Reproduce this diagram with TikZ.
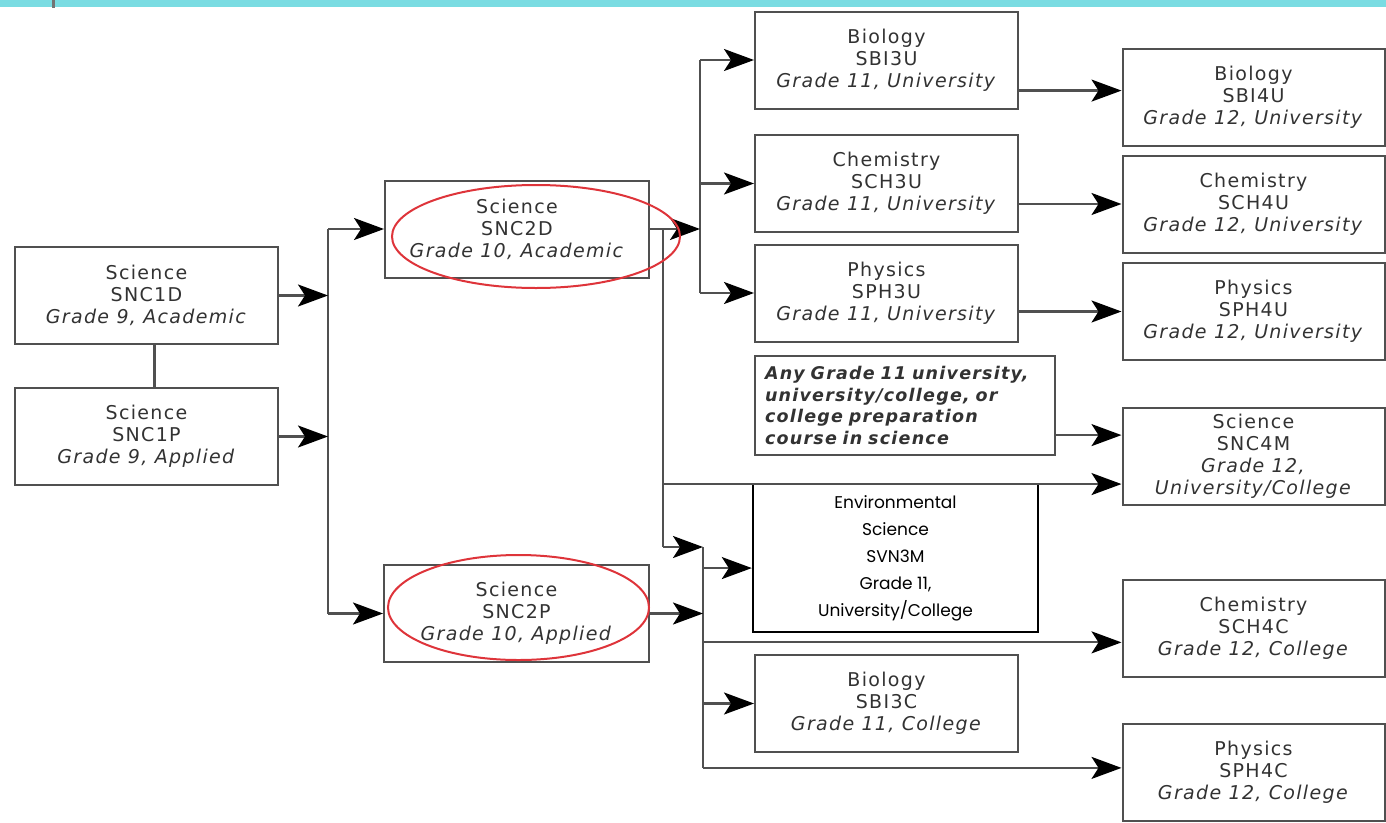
\documentclass[tikz,border=0pt]{standalone}
\usepackage{fontspec}
\usetikzlibrary{arrows.meta}
\newfontfamily\crsfont{DejaVu Sans}[LetterSpace=7]
\newfontfamily\envfont{Poppins}
\definecolor{barcyan}{RGB}{122,220,226}
\definecolor{ringred}{RGB}{222,52,58}
\definecolor{inkgray}{RGB}{50,50,50}
\definecolor{rulegray}{RGB}{80,80,80}
\tikzset{
  course/.style={draw=rulegray, line width=2pt, minimum width=263pt, minimum height=97pt,
    inner sep=0pt, align=center, text=inkgray, font=\crsfont\fontsize{19}{22}\selectfont},
  arr/.style={draw=rulegray, line width=2.2pt, -{Stealth[length=30pt,width=22pt,inset=7pt,black]}},
  link/.style={draw=rulegray, line width=2.2pt},
  ring/.style={draw=ringred, line width=2pt}
}
\begin{document}
\begin{tikzpicture}[x=1pt,y=-1pt]
\useasboundingbox (0,0) rectangle (1386,822);
\fill[barcyan] (0,0) rectangle (1386,7);
\fill[black!55] (52,0) rectangle (55,8);

\coordinate (trunkA) at (328,0);
\coordinate (trunkB) at (700,0);
\coordinate (trunkC) at (703,0);
\coordinate (elbow) at (663,547);

% grade 9 and 10
\node (sncD1) at (146.5,295.5) [course] {Science\\SNC1D\\\textit{Grade 9, Academic}};
\node (sncP1) at (146.5,436.5) [course] {Science\\SNC1P\\\textit{Grade 9, Applied}};
\node (sncD2) at (517,229) [course, minimum width=264pt] {Science\\SNC2D\\\textit{Grade 10, Academic}};
\node (sncP2) at (516.5,613.5) [course, minimum width=265pt] {Science\\SNC2P\\\textit{Grade 10, Applied}};

% grade 11
\node (bioU3) at (886.5,60) [course] {Biology\\SBI3U\\\textit{Grade 11, University}};
\node (chemU3) at (886.5,183.5) [course] {Chemistry\\SCH3U\\\textit{Grade 11, University}};
\node (physU3) at (886.5,293) [course] {Physics\\SPH3U\\\textit{Grade 11, University}};
\node (anyBox) at (905,405.5) [course, minimum width=0pt, text width=280pt, inner xsep=10pt,
  minimum height=99pt, align=left, font=\crsfont\fontsize{17.5}{21.5}\selectfont\bfseries\itshape]
  {Any Grade 11 university,\\university/college, or\\college preparation\\course in science};
\node (envM3) at (895.5,558) [course, draw=black, line width=2.4pt, text=black, minimum width=285pt,
  minimum height=148pt, font=\envfont\fontsize{17}{27}\selectfont]
  {Environmental\\Science\\SVN3M\\Grade 11,\\University/College};
\node (bioC3) at (886.5,703.5) [course] {Biology\\SBI3C\\\textit{Grade 11, College}};

% grade 12
\node (bioU4) at (1253.5,97.5) [course, minimum width=262pt] {Biology\\SBI4U\\\textit{Grade 12, University}};
\node (chemU4) at (1253.5,204) [course, minimum width=262pt] {Chemistry\\SCH4U\\\textit{Grade 12, University}};
\node (physU4) at (1253.5,311.5) [course, minimum width=262pt] {Physics\\SPH4U\\\textit{Grade 12, University}};
\node (sncM4) at (1253.5,456) [course, minimum width=262pt] {Science\\SNC4M\\\textit{Grade 12,}\\\textit{University/College}};
\node (chemC4) at (1253.5,628.5) [course, minimum width=262pt] {Chemistry\\SCH4C\\\textit{Grade 12, College}};
\node (physC4) at (1253.5,772.5) [course, minimum width=262pt] {Physics\\SPH4C\\\textit{Grade 12, College}};

\draw[link] ([xshift=8pt]sncD1.south) -- ([xshift=8pt]sncP1.north);

% grade 9 -> grade 10
\draw[link] (trunkA |- sncD2.west) -- (trunkA |- sncP2.west);
\foreach \s in {sncD1,sncP1} {%
    \path (\s.east) edge[arr] (\s.east -| trunkA);
}
\foreach \t in {sncD2,sncP2} {%
    \path (trunkA |- \t.west) edge[arr] (\t.west);
}

% academic branch
\draw[link] (trunkB |- bioU3.west) -- (trunkB |- physU3.west);
\path (sncD2.east) edge[arr] (sncD2.east -| trunkB);
\foreach \t in {bioU3,chemU3,physU3} {%
    \path (trunkB |- \t.west) edge[arr] (\t.west);
}
\draw[link] (sncD2.east) -| (elbow);
\path (elbow) edge[arr] (elbow -| trunkC);
\path (elbow |- sncM4.192) edge[arr] (sncM4.192);

% applied branch
\draw[link] (trunkC |- elbow) -- (trunkC |- physC4.178);
\path (sncP2.east) edge[arr] (sncP2.east -| trunkC);
\foreach \t in {envM3.184,chemC4.186,bioC3.west,physC4.178} {%
    \path (trunkC |- \t) edge[arr] (\t);
}

% grade 11 -> grade 12
\foreach \a/\b in {bioU3/bioU4.177,chemU3/chemU4.west,physU3/physU4.west} {%
    \path (\a.east |- \b) edge[arr] (\b);
}
\path (anyBox.east |- sncM4.171) edge[arr] (sncM4.171);

% marked courses
\draw[ring] ([shift={(19,7.5)}]sncD2.center) ellipse [x radius=144, y radius=51.5];
\draw[ring] ([shift={(2,-6)}]sncP2.center) ellipse [x radius=130.5, y radius=52.5];
\end{tikzpicture}
\end{document}
